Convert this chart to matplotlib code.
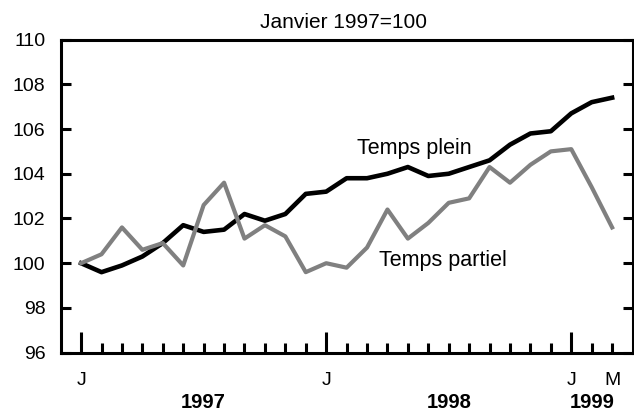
import numpy as np
import matplotlib.pyplot as plt
from matplotlib.transforms import blended_transform_factory

plt.rcParams['font.family'] = ['Liberation Sans', 'DejaVu Sans']

# indices mensuels, janvier 1997 = 100 (janv. 1997 -> mars 1999)
plein = [100.0, 99.6, 99.9, 100.3, 100.9, 101.7, 101.4, 101.5, 102.2, 101.9,
         102.2, 103.1, 103.2, 103.8, 103.8, 104.0, 104.3, 103.9, 104.0, 104.3,
         104.6, 105.3, 105.8, 105.9, 106.7, 107.2, 107.4]
partiel = [100.0, 100.4, 101.6, 100.6, 100.9, 99.9, 102.6, 103.6, 101.1, 101.7,
           101.2, 99.6, 100.0, 99.8, 100.7, 102.4, 101.1, 101.8, 102.7, 102.9,
           104.3, 103.6, 104.4, 105.0, 105.1, 103.4, 101.6]
mois_labels = ['J', 'F', 'M', 'A', 'M', 'J', 'J', 'A', 'S', 'O', 'N', 'D']
annees = ['1997', '1998', '1999']

x = np.arange(len(plein))

fig = plt.figure(figsize=(6.34, 4.12), dpi=100)
ax = fig.add_axes([0.0957, 0.144, 0.902, 0.760])

ax.plot(x, plein, color='black', lw=3.3)
ax.plot(x, partiel, color='#808080', lw=3.0)

ax.set_xlim(-1, len(x))
ax.set_ylim(96, 110)
ax.set_yticks(np.arange(96, 111, 2))

# graduations : janvier = longue, autres mois = courte
major = [i for i in x if i % 12 == 0]
minor = [i for i in x if i % 12 != 0]
ax.set_xticks(major)
ax.set_xticklabels([mois_labels[i % 12] for i in major])
ax.set_xticks(minor, minor=True)
ax.set_xticklabels([mois_labels[i % 12] if i == x[-1] else '' for i in minor], minor=True)

ax.tick_params(axis='x', which='major', direction='in', length=15, width=2.2,
               pad=14, labelsize=14)
ax.tick_params(axis='x', which='minor', direction='in', length=7.5, width=2.2,
               pad=14, labelsize=14)
ax.tick_params(axis='y', direction='in', length=7, width=2.2, right=True,
               labelsize=14, pad=11)

for s in ax.spines.values():
    s.set_linewidth(2.2)

tr = blended_transform_factory(ax.transData, ax.transAxes)
for k, a in enumerate(annees):
    pos = [6, 18, 25][k]
    ax.text(pos, -0.158, a, transform=tr, ha='center', va='center',
            fontsize=14.5, fontweight='bold')

ax.text(16.3, 105.15, 'Temps plein', ha='center', va='center', fontsize=15.5)
ax.text(17.7, 100.14, 'Temps partiel', ha='center', va='center', fontsize=15.5)

fig.text(344 / 634, 1 - 22 / 412, 'Janvier 1997=100', ha='center', va='center',
         fontsize=15)

plt.savefig('out.png')
